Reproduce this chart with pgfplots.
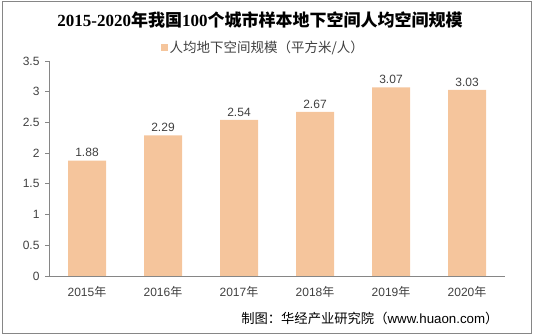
\documentclass[border=0pt]{standalone}
\usepackage{pgfplots}
\pgfplotsset{compat=1.18}
\usepackage{fontspec}
\setmainfont{Liberation Sans}
\newfontfamily\cjk{Noto Sans CJK SC}
\newfontfamily\serifb{Liberation Serif}
\definecolor{barc}{HTML}{F5C59C}
\definecolor{axc}{HTML}{868686}
\definecolor{txt}{HTML}{404040}
\begin{document}
\begin{tikzpicture}[x=1pt,y=1pt]
\path[use as bounding box] (0,0) rectangle (534,336);
\draw[axc, line width=1pt] (2,2) rectangle (531,334);
\node[font={\fontsize{17}{20}\selectfont\bfseries}, text=black] at (260,316)
  {{\serifb 2015-2020}{\cjk 年我国}{\serifb 100}{\cjk 个城市样本地下空间人均空间规模}};
\begin{axis}[
  at={(49pt,60pt)}, anchor=south west,
  width=456pt, height=215pt, scale only axis,
  xmin=-0.5, xmax=5.5, ymin=0, ymax=3.5,
  axis x line*=bottom, axis y line*=left,
  axis line style={axc,-, line width=0.8pt},
  ytick={0,0.5,...,3.5},
  xtick={0,1,2,3,4,5},
  xticklabels={2015{\cjk 年},2016{\cjk 年},2017{\cjk 年},2018{\cjk 年},2019{\cjk 年},2020{\cjk 年}},
  major x tick style={draw=none},
  extra x ticks={-0.5,0.5,1.5,2.5,3.5,4.5,5.5},
  extra x tick labels={},
  extra x tick style={major tick length=5pt, tick style={axc, line width=0.8pt}, tick align=outside},
  major y tick style={axc, line width=0.8pt},
  major tick length=4pt,
  tick align=outside,
  ticklabel style={font={\fontsize{12}{14}\selectfont}, text=txt},
  /pgf/number format/assume math mode=true,
  yticklabel style={xshift=-2pt},
  xticklabel style={yshift=-3pt},
  legend style={at={(axis description cs:0.47,1.065)}, anchor=center, draw=none,
    font={\fontsize{13.5}{15}\selectfont\cjk}, text=txt, legend cell align=left},
  legend image code/.code={\fill[barc] (0pt,-3.5pt) rectangle (7pt,3.5pt);},
  nodes near coords,
  nodes near coords style={font={\fontsize{12}{14}\selectfont}, text=txt,
    /pgf/number format/.cd, fixed, fixed zerofill, precision=2, assume math mode=true},
  clip=false,
]
\addplot[ybar, bar width=38pt, fill=barc, draw=none] coordinates {
  (0,1.88) (1,2.29) (2,2.54) (3,2.67) (4,3.07) (5,3.03)};
\addlegendentry{人均地下空间规模（平方米/人）}
\end{axis}
\node[anchor=east, font={\fontsize{13.3}{15}\selectfont}, text=black] at (502,18)
  {{\cjk 制图：华经产业研究院（}www.huaon.com{\cjk ）}};
\end{tikzpicture}
\end{document}
